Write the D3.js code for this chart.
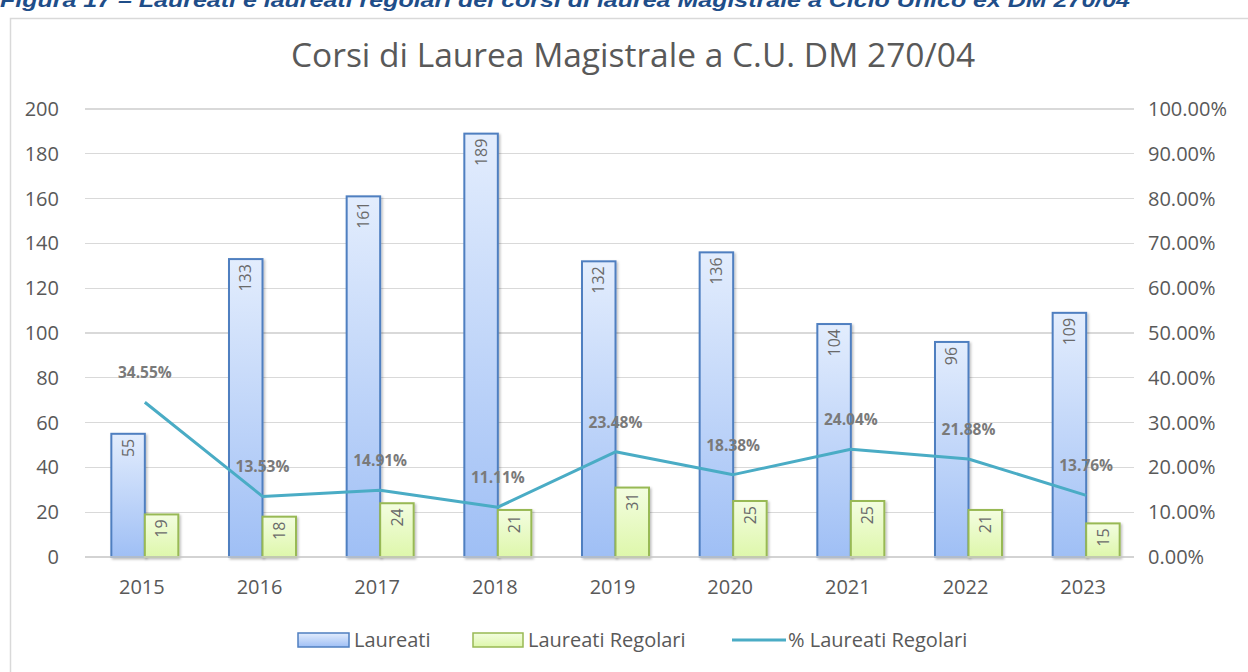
<!DOCTYPE html>
<html lang="it">
<head>
<meta charset="utf-8">
<title>Corsi di Laurea Magistrale a C.U. DM 270/04</title>
<style>
body { margin: 0; background: #fff; }
svg text { font-family: "Open Sans", "Liberation Sans", sans-serif; fill: #595959; }
.grid line { stroke: #d9d9d9; stroke-width: 1.3; shape-rendering: crispEdges; }
.axis path, .axis line { display: none; }
.axis text { font-size: 20px; fill: #595959; font-family: "Open Sans", sans-serif; }
</style>
</head>
<body>
<div id="chart"></div>
<script src="https://d3js.org/d3.v7.min.js"></script>
<script>
var years = ['2015', '2016', '2017', '2018', '2019', '2020', '2021', '2022', '2023'];
var laureati = [55, 133, 161, 189, 132, 136, 104, 96, 109];
var regolari = [19, 18, 24, 21, 31, 25, 25, 21, 15];
var pctRegolari = [34.55, 13.53, 14.91, 11.11, 23.48, 18.38, 24.04, 21.88, 13.76];
var leftTicks = [0, 20, 40, 60, 80, 100, 120, 140, 160, 180, 200];
var rightTicks = [0, 10, 20, 30, 40, 50, 60, 70, 80, 90, 100];

var W = 1248, H = 672;
var svg = d3.select('#chart').append('svg')
  .attr('width', W).attr('height', H);

var defs = svg.append('defs');
var gBlue = defs.append('linearGradient').attr('id', 'gBlue')
  .attr('x1', 0).attr('y1', 0).attr('x2', 0).attr('y2', 1);
gBlue.append('stop').attr('offset', '0%').attr('stop-color', '#e3edfd');
gBlue.append('stop').attr('offset', '100%').attr('stop-color', '#9fbff5');
var gGreen = defs.append('linearGradient').attr('id', 'gGreen')
  .attr('x1', 0).attr('y1', 0).attr('x2', 0).attr('y2', 1);
gGreen.append('stop').attr('offset', '0%').attr('stop-color', '#f3fde0');
gGreen.append('stop').attr('offset', '100%').attr('stop-color', '#def7ab');
var shadow = defs.append('filter').attr('id', 'shadow')
  .attr('x', '-20%').attr('y', '-20%').attr('width', '150%').attr('height', '150%');
shadow.append('feDropShadow').attr('dx', 1.5).attr('dy', 1.5).attr('stdDeviation', 1.2)
  .attr('flood-color', '#000').attr('flood-opacity', 0.25);

// caption, cut at the top edge as in the source page
svg.append('text')
  .attr('x', 0).attr('y', 7)
  .attr('textLength', 1130).attr('lengthAdjust', 'spacingAndGlyphs')
  .style('font-family', '"Liberation Sans", sans-serif')
  .style('font-size', '20px').style('font-weight', 'bold').style('font-style', 'italic')
  .style('fill', '#1f4e89')
  .text('Figura 17 – Laureati e laureati regolari dei corsi di laurea Magistrale a Ciclo Unico ex DM 270/04');

// chart frame
svg.append('rect')
  .attr('x', 10.5).attr('y', 18.5).attr('width', W).attr('height', H)
  .attr('fill', 'none').attr('stroke', '#d9d9d9').attr('stroke-width', 1.5);

svg.append('text')
  .attr('x', 633).attr('y', 67)
  .attr('text-anchor', 'middle')
  .style('font-size', '33.5px')
  .text('Corsi di Laurea Magistrale a C.U. DM 270/04');

var x = d3.scaleBand().domain(years).range([83, 1142]);
var y = d3.scaleLinear().domain([0, 200]).range([557, 109]);
var y2 = d3.scaleLinear().domain([0, 100]).range([557, 109]);

svg.append('g').attr('class', 'grid')
  .selectAll('line').data(leftTicks).enter().append('line')
  .attr('x1', 85).attr('x2', 1134)
  .attr('y1', function(d) { return y(d); }).attr('y2', function(d) { return y(d); });

svg.append('g').attr('class', 'axis')
  .attr('transform', 'translate(71,0)')
  .call(d3.axisLeft(y).tickValues(leftTicks).tickSize(0).tickPadding(12));
svg.append('g').attr('class', 'axis')
  .attr('transform', 'translate(1136,0)')
  .call(d3.axisRight(y2).tickValues(rightTicks).tickSize(0).tickPadding(12)
    .tickFormat(function(d) { return d.toFixed(2) + '%'; }));
svg.append('g').attr('class', 'axis')
  .attr('transform', 'translate(0,580)')
  .call(d3.axisBottom(x).tickSize(0).tickPadding(0));

var barW = 33.5;
function cx(i) { return x(years[i]) + x.bandwidth() / 2 + 3; }

var bars = svg.append('g');
bars.selectAll('rect.l').data(laureati).enter().append('rect')
  .attr('x', function(d, i) { return cx(i) - barW; })
  .attr('y', function(d) { return y(d); })
  .attr('width', barW).attr('height', function(d) { return y(0) - y(d); })
  .attr('fill', 'url(#gBlue)').attr('stroke', '#4f7fc0').attr('stroke-width', 2)
  .attr('filter', 'url(#shadow)');
bars.selectAll('rect.r').data(regolari).enter().append('rect')
  .attr('x', function(d, i) { return cx(i); })
  .attr('y', function(d) { return y(d); })
  .attr('width', barW).attr('height', function(d) { return y(0) - y(d); })
  .attr('fill', 'url(#gGreen)').attr('stroke', '#98b954').attr('stroke-width', 2)
  .attr('filter', 'url(#shadow)');

// baseline
svg.append('line').attr('x1', 85).attr('x2', 1134)
  .attr('y1', y(0)).attr('y2', y(0))
  .attr('stroke', '#d0d0d0').attr('stroke-width', 1.5);

function barLabel(data, off) {
  svg.append('g').selectAll('text').data(data).enter().append('text')
    .attr('transform', function(d, i) {
      return 'translate(' + (cx(i) + off) + ',' + (y(d) + 5) + ') rotate(-90)';
    })
    .attr('text-anchor', 'end').attr('dy', '0.35em')
    .style('font-size', '16px').style('fill', '#6a6a6a')
    .text(function(d) { return d; });
}
barLabel(laureati, -barW / 2);
barLabel(regolari, barW / 2);

var line = d3.line()
  .x(function(d, i) { return cx(i); })
  .y(function(d) { return y2(d); });
svg.append('path').datum(pctRegolari)
  .attr('d', line).attr('fill', 'none')
  .attr('stroke', '#4aacc5').attr('stroke-width', 3).attr('stroke-linejoin', 'round');

svg.append('g').selectAll('text').data(pctRegolari).enter().append('text')
  .attr('x', function(d, i) { return cx(i); })
  .attr('y', function(d) { return y2(d) - 24; })
  .attr('text-anchor', 'middle')
  .style('font-size', '15.5px').style('font-weight', 'bold').style('fill', '#7a7a7a')
  .text(function(d) { return d.toFixed(2) + '%'; });

// legend
var leg = svg.append('g').attr('transform', 'translate(0,640)');
leg.append('rect').attr('x', 298).attr('y', -7).attr('width', 51).attr('height', 14)
  .attr('fill', 'url(#gBlue)').attr('stroke', '#4f7fc0').attr('stroke-width', 1.5);
leg.append('text').attr('x', 354).attr('dy', '0.35em').style('font-size', '20px').text('Laureati');
leg.append('rect').attr('x', 473).attr('y', -7).attr('width', 50).attr('height', 14)
  .attr('fill', 'url(#gGreen)').attr('stroke', '#98b954').attr('stroke-width', 1.5);
leg.append('text').attr('x', 528).attr('dy', '0.35em').style('font-size', '20px').text('Laureati Regolari');
leg.append('line').attr('x1', 732).attr('x2', 786).attr('y1', 0).attr('y2', 0)
  .attr('stroke', '#4aacc5').attr('stroke-width', 3);
leg.append('text').attr('x', 788).attr('dy', '0.35em').style('font-size', '20px').text('% Laureati Regolari');
</script>
</body>
</html>
